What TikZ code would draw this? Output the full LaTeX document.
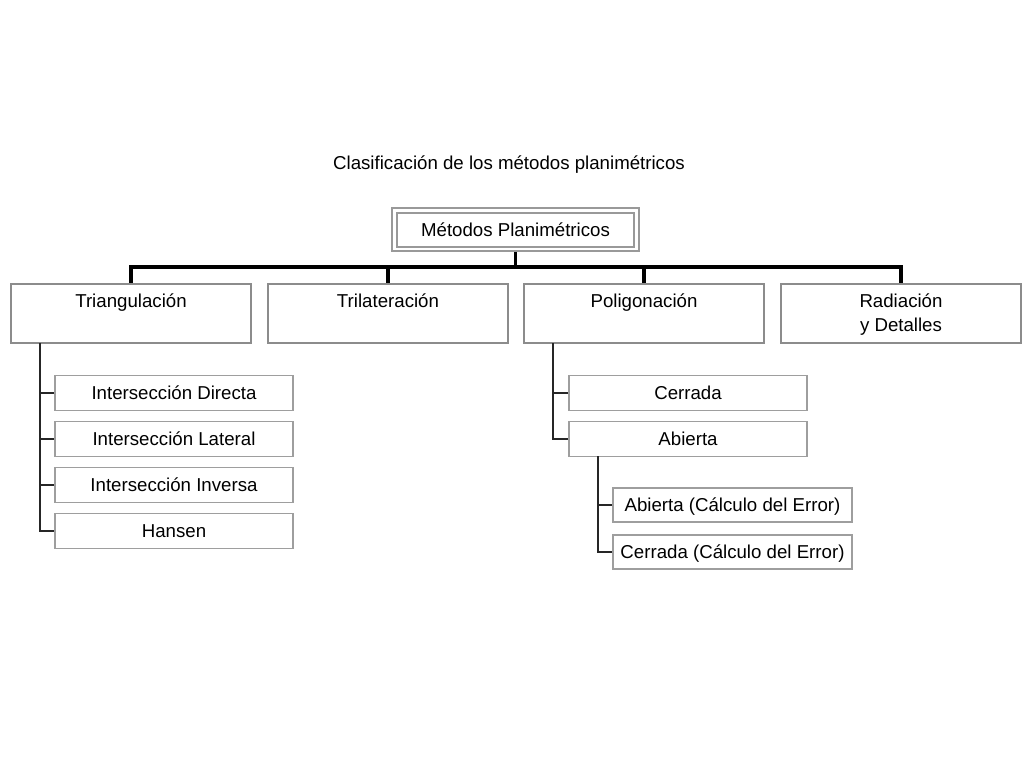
\documentclass[tikz,border=0pt]{standalone}
\usepackage{fontspec}
\setmainfont{Liberation Sans}
\begin{document}
\begin{tikzpicture}[x=0.75pt,y=-0.75pt,
  box/.style={draw=black!45,line width=1.6pt,fill=white,inner sep=0pt},
  sbox/.style={draw=black!38,line width=1.4pt,fill=white,inner sep=0pt},
  txt/.style={font=\fontsize{14}{17}\selectfont,text height=11.5pt,text depth=1.5pt},
  bar/.style={line width=2.6pt,black},
  conn/.style={line width=1.3pt,black!85}]
\useasboundingbox (0,0) rectangle (1024,768);
\fill[white] (0,0) rectangle (1024,768);
\node[txt] (title) at (509,163) {Clasificación de los métodos planimétricos};
% top
\node[draw=black!40,line width=1.2pt,minimum width=247*0.75pt,minimum height=43*0.75pt] (topo) at (515.5,229.5) {};
\node[draw=black!40,line width=1.4pt,minimum width=237*0.75pt,minimum height=34*0.75pt,txt] (top) at (515.5,230) {Métodos Planimétricos};
% level 1
\foreach \n/\cx in {tri/131, tril/388, pol/644, rad/901}{
  \node[box,minimum width=240*0.75pt,minimum height=59*0.75pt] (\n) at (\cx,313.5) {};
}
\node[txt] (triT) at (131,301) {Triangulación};
\node[txt] (trilT) at (388,301) {Trilateración};
\node[txt] (polT) at (644,301) {Poligonación};
\node[font=\fontsize{14}{18}\selectfont,align=center] (radT) at (901,314.5) {Radiación\\y Detalles};
\coordinate (bus) at (515.5,267);
\draw[bar] (topo.south) -- (bus);
\draw[bar] (tri.north) |- (bus) -| (rad.north);
\draw[bar] (tril.north) -- (tril.north |- bus);
\draw[bar] (pol.north) -- (pol.north |- bus);
% triangulacion children
\foreach \n/\t/\cy in {id/Intersección Directa/393, il/Intersección Lateral/439, ii/Intersección Inversa/485, ha/Hansen/531}{
  \node[sbox,txt,minimum width=238*0.75pt,minimum height=35*0.75pt] (\n) at (174,\cy) {\t};
}
\coordinate (tv) at (40,343);
\draw[conn] (tv) |- (ha.west);
\foreach \n in {id,il,ii}{ \draw[conn] (\n.west) -- (\n.west -| tv); }
% poligonacion children
\node[sbox,txt,minimum width=238*0.75pt,minimum height=35*0.75pt] (ce) at (688,393) {Cerrada};
\node[sbox,txt,minimum width=238*0.75pt,minimum height=35*0.75pt] (ab) at (688,439) {Abierta};
\coordinate (pv) at (553,343);
\draw[conn] (pv) |- (ab.west);
\draw[conn] (ce.west) -- (ce.west -| pv);
% abierta children
\node[sbox,txt,minimum width=239*0.75pt,minimum height=34*0.75pt] (ae) at (732.5,505) {Abierta (Cálculo del Error)};
\node[sbox,txt,minimum width=239*0.75pt,minimum height=34*0.75pt] (cee) at (732.5,552) {Cerrada (Cálculo del Error)};
\coordinate (av) at (598,456);
\draw[conn] (av) |- (cee.west);
\draw[conn] (ae.west) -- (ae.west -| av);
\end{tikzpicture}
\end{document}
